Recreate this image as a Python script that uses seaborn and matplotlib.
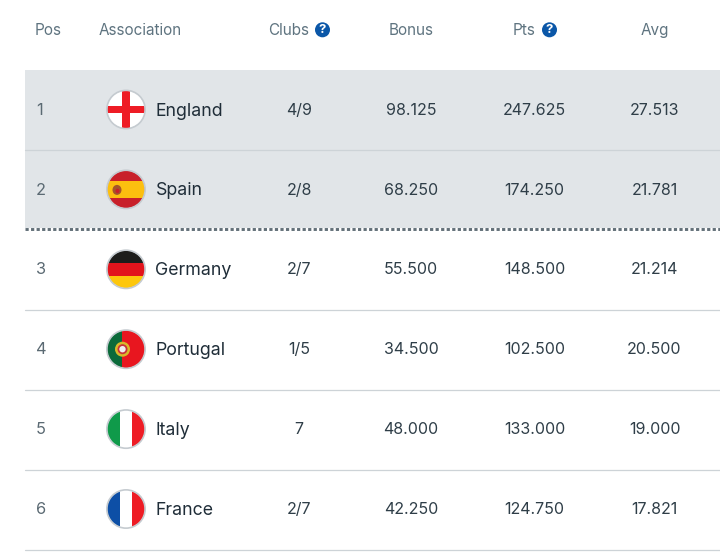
#!/usr/bin/env python3
# -*- coding: utf-8 -*-
import pandas as pd
import matplotlib
matplotlib.use("Agg")
import matplotlib.pyplot as plt
from matplotlib.patches import Circle, Rectangle, Ellipse
import seaborn as sns

sns.set_style("white")
plt.rcParams['font.family'] = ['Inter', 'DejaVu Sans']

### Data
pos = ['1', '2', '3', '4', '5', '6']
association = ['England', 'Spain', 'Germany', 'Portugal', 'Italy', 'France']
clubs = ['4/9', '2/8', '2/7', '1/5', '7', '2/7']
bonus = ['98.125', '68.250', '55.500', '34.500', '48.000', '42.250']
pts = ['247.625', '174.250', '148.500', '102.500', '133.000', '124.750']
avg = ['27.513', '21.781', '21.214', '20.500', '19.000', '17.821']

df = pd.DataFrame({'pos': pos, 'association': association, 'clubs': clubs,
                   'bonus': bonus, 'pts': pts, 'avg': avg})

#%% Layout
row_h = 79.9
first_row = 109.5
flag_x = 126
flag_r = 18.8
df['y'] = [first_row + row_h * i for i in range(len(df))]
df['flag_x'] = flag_x

header_col = '#5f7480'
text_col = '#2f3e48'
name_col = '#1f2d38'
pos_col = '#5b6a73'
red = '#ee1c25'

fig = plt.figure(figsize=(7.2, 5.58), dpi=100)
ax = fig.add_axes([0, 0, 1, 1])
ax.set_xlim(0, 720)
ax.set_ylim(558, 0)
ax.axis('off')

# shaded rows and separators
ax.add_patch(Rectangle((25, 70), 695, 158, color='#e1e5e8', lw=0, zorder=0))
for y in [149.5, 309.5, 389.5, 469.5, 549.5]:
    ax.plot([25, 720], [y, y], color='#cdd3d7', lw=0.9, zorder=1)
ax.plot([25, 720], [228.5, 228.5], color='#626f78', lw=2.1, zorder=2,
        dashes=(1.1, 0.8), dash_capstyle='butt')


#%% Flags
def flag_bars(y, colors, horizontal=True):
    n = len(colors)
    clip = Circle((flag_x, y), flag_r, transform=ax.transData)
    for i, c in enumerate(colors):
        if horizontal:
            r = Rectangle((flag_x - flag_r, y - flag_r + 2 * flag_r * i / n),
                          2 * flag_r, 2 * flag_r / n + 0.3, color=c, lw=0, zorder=3)
        else:
            r = Rectangle((flag_x - flag_r + 2 * flag_r * i / n, y - flag_r),
                          2 * flag_r / n + 0.3, 2 * flag_r, color=c, lw=0, zorder=3)
        ax.add_patch(r)
        r.set_clip_path(clip)
    return clip


y = df['y'].tolist()

# England
clip = flag_bars(y[0], ['#ffffff'])
for r in [Rectangle((flag_x - 3.9, y[0] - flag_r), 7.8, 2 * flag_r, color=red, lw=0, zorder=4),
          Rectangle((flag_x - flag_r, y[0] - 3.9), 2 * flag_r, 7.8, color=red, lw=0, zorder=4)]:
    ax.add_patch(r)
    r.set_clip_path(clip)

# Spain
clip = Circle((flag_x, y[1]), flag_r, transform=ax.transData)
for top, h, c in [(-flag_r, 2 * flag_r, '#c8202a'), (-8.5, 17, '#fcbf0f')]:
    r = Rectangle((flag_x - flag_r, y[1] + top), 2 * flag_r, h, color=c, lw=0, zorder=3)
    ax.add_patch(r)
    r.set_clip_path(clip)
ax.add_patch(Ellipse((flag_x - 9, y[1] + 0.5), 9, 10, color='#a5552a', lw=0, zorder=4))
ax.add_patch(Ellipse((flag_x - 8.5, y[1] + 1.5), 4, 4.5, color='#c8202a', lw=0, zorder=5))

# Germany, Italy, France
flag_bars(y[2], ['#1d1d1b', '#e2141c', '#fdc70c'])
flag_bars(y[4], ['#0f9a4a', '#ffffff', red], horizontal=False)
flag_bars(y[5], ['#0d4fa6', '#ffffff', red], horizontal=False)

# Portugal
clip = Circle((flag_x, y[3]), flag_r, transform=ax.transData)
for left, w, c in [(-flag_r, 15, '#0b6a3a'), (-flag_r + 15, 2 * flag_r - 15, '#e8161f')]:
    r = Rectangle((flag_x + left, y[3] - flag_r), w, 2 * flag_r, color=c, lw=0, zorder=3)
    ax.add_patch(r)
    r.set_clip_path(clip)
ax.add_patch(Circle((flag_x - 3.5, y[3]), 7.5, color='#d9b92a', lw=0, zorder=4))
ax.add_patch(Circle((flag_x - 3.5, y[3]), 5, color='#c8323a', lw=0, zorder=5))
ax.add_patch(Circle((flag_x - 3.5, y[3]), 3.2, color='#f0f0f0', lw=0, zorder=6))

# grey ring round each flag
sns.scatterplot(data=df, x='flag_x', y='y', s=760, facecolors='none',
                edgecolor='#c5cbd0', linewidth=1.2, zorder=7, ax=ax, legend=False)
ax.set_xlabel('')
ax.set_ylabel('')
ax.set_xlim(0, 720)
ax.set_ylim(558, 0)

#%% Header
header_y = 35
hsize = 11
ax.text(35, header_y, 'Pos', color=header_col, fontsize=hsize)
ax.text(98.5, header_y, 'Association', color=header_col, fontsize=hsize)
ax.text(268.5, header_y, 'Clubs', color=header_col, fontsize=hsize)
ax.text(411.5, header_y, 'Bonus', color=header_col, fontsize=hsize, ha='center')
ax.text(513, header_y, 'Pts', color=header_col, fontsize=hsize)
ax.text(654.5, header_y, 'Avg', color=header_col, fontsize=hsize, ha='center')
for hx in [322.5, 549.5]:
    ax.add_patch(Circle((hx, 29.8), 7.5, color='#0b57a8', lw=0, zorder=3))
    ax.text(hx, 30, '?', color='white', fontsize=9.5, fontweight='bold',
            ha='center', va='center', zorder=4)

#%% Rows
for _, row in df.iterrows():
    yy = row['y']
    ax.text(36, yy + 5.2, row['pos'], color=pos_col, fontsize=11.8)
    ax.text(155.5, yy + 6, row['association'], color=name_col, fontsize=12.8)
    ax.text(299, yy + 5.2, row['clubs'], color=text_col, fontsize=11.5, ha='center')
    ax.text(411, yy + 5.2, row['bonus'], color=text_col, fontsize=11.5, ha='center')
    ax.text(534.5, yy + 5.2, row['pts'], color=text_col, fontsize=11.5, ha='center')
    ax.text(654.5, yy + 5.2, row['avg'], color=text_col, fontsize=11.5, ha='center')

plt.savefig('out.png', dpi=100)
